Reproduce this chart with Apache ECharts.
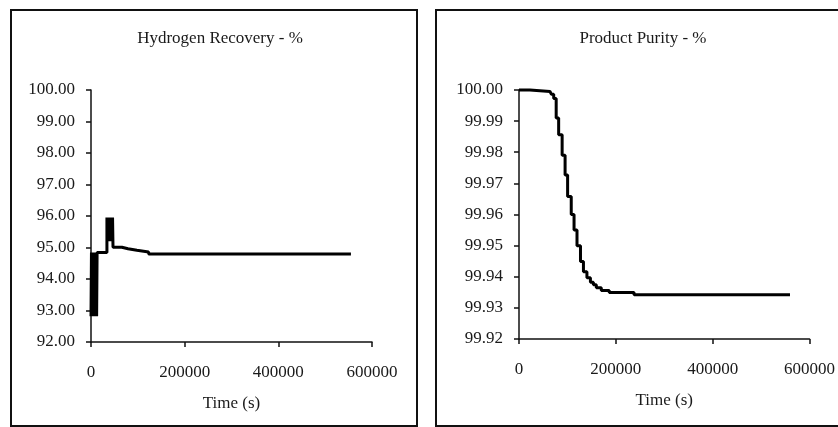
<!DOCTYPE html>
<html>
<head>
<meta charset="utf-8">
<script src="https://cdn.jsdelivr.net/npm/echarts@6/dist/echarts.min.js"></script>
<style>
  html, body { margin: 0; padding: 0; background: #fff; }
  #chart { width: 838px; height: 427px; }
</style>
</head>
<body>
<div id="chart"></div>
<script>
// 图表数据
const titles = ['Hydrogen Recovery - %', 'Product Purity - %'];
const xName = 'Time (s)';
const timeRange = [0, 600000, 200000];
const recoveryRange = [92, 100, 1];
const purityRange = [99.92, 100, 0.01];

// 氢回收率 (阶梯曲线, 前段为快速振荡)
const recoveryTime = [0, 1000, 2000, 3000, 4000, 5000, 6000, 7000, 8000, 9000, 10000, 11000, 12000, 13000,
  34000, 35000, 36000, 37000, 38000, 39000, 40000, 41000, 42000, 43000, 44000, 45000, 46000, 47000,
  66000, 79000, 98000, 123000, 555000];
const recoveryValue = [92.82, 94.84, 92.82, 94.84, 92.82, 94.84, 92.82, 94.84, 92.82, 94.84, 92.82, 94.84, 92.82, 94.84,
  95.95, 95.20, 95.95, 95.20, 95.95, 95.20, 95.95, 95.20, 95.95, 95.20, 95.95, 95.20, 95.95, 95.01,
  94.96, 94.91, 94.86, 94.79, 94.79];

// 产品纯度
const purityTime = [0, 22500, 64000, 67000, 71700, 76800, 81900, 89100, 95200, 100400, 107900, 113700,
  119800, 127000, 133100, 140300, 147500, 153600, 159700, 170000, 186400, 237600, 559700];
const purityValue = [100.0000, 99.9995, 99.9990, 99.9986, 99.9973, 99.9910, 99.9856, 99.9790, 99.9727, 99.9658, 99.9600, 99.9550,
  99.9500, 99.9449, 99.9416, 99.9397, 99.9382, 99.9374, 99.9365, 99.9356, 99.9349, 99.9342, 99.9342];

const zip = (xs, ys) => xs.map((x, i) => [x, ys[i]]);

const font = 'Liberation Serif';
const textColor = '#1a1a1a';

function makeXAxis(gridIndex) {
  return {
    type: 'value', gridIndex: gridIndex,
    min: timeRange[0], max: timeRange[1], interval: timeRange[2],
    name: xName, nameLocation: 'middle', nameGap: 53,
    nameTextStyle: { fontFamily: font, fontSize: 17, color: textColor },
    axisLine: { lineStyle: { color: '#111', width: 1.5 } },
    axisTick: { show: true, length: 5, lineStyle: { color: '#111', width: 1.5 } },
    axisLabel: { fontFamily: font, fontSize: 17, color: textColor, margin: 22, formatter: v => String(v) },
    splitLine: { show: false }
  };
}

function makeYAxis(gridIndex, range) {
  return {
    type: 'value', gridIndex: gridIndex,
    min: range[0], max: range[1], interval: range[2],
    axisLine: { show: true, lineStyle: { color: '#111', width: 1.5 } },
    axisTick: { show: true, length: 5, lineStyle: { color: '#111', width: 1.5 } },
    axisLabel: { fontFamily: font, fontSize: 17, color: textColor, margin: 16, formatter: v => v.toFixed(2) },
    splitLine: { show: false }
  };
}

function makeSeries(idx, data) {
  return {
    type: 'line', xAxisIndex: idx, yAxisIndex: idx,
    data: data, step: 'end', showSymbol: false,
    lineStyle: { color: '#000', width: 3 },
    clip: false
  };
}

let chart = echarts.init(document.getElementById('chart'));
chart.setOption({
  animation: false,
  backgroundColor: '#fff',
  title: [
    { text: titles[0], left: 215, top: 25, textAlign: 'center',
      textStyle: { fontFamily: font, fontSize: 17, fontWeight: 'normal', color: textColor } },
    { text: titles[1], left: 638, top: 25, textAlign: 'center',
      textStyle: { fontFamily: font, fontSize: 17, fontWeight: 'normal', color: textColor } }
  ],
  // 外框
  graphic: [
    { type: 'rect', shape: { x: 11, y: 10, width: 406, height: 416 },
      style: { fill: 'none', stroke: '#111', lineWidth: 2 } },
    { type: 'rect', shape: { x: 436, y: 10, width: 420, height: 416 },
      style: { fill: 'none', stroke: '#111', lineWidth: 2 } }
  ],
  grid: [
    { left: 91, top: 90, width: 281, height: 252 },
    { left: 519, top: 90, width: 293, height: 249 }
  ],
  xAxis: [makeXAxis(0), makeXAxis(1)],
  yAxis: [makeYAxis(0, recoveryRange), makeYAxis(1, purityRange)],
  series: [
    makeSeries(0, zip(recoveryTime, recoveryValue)),
    makeSeries(1, zip(purityTime, purityValue))
  ]
});
</script>
</body>
</html>
